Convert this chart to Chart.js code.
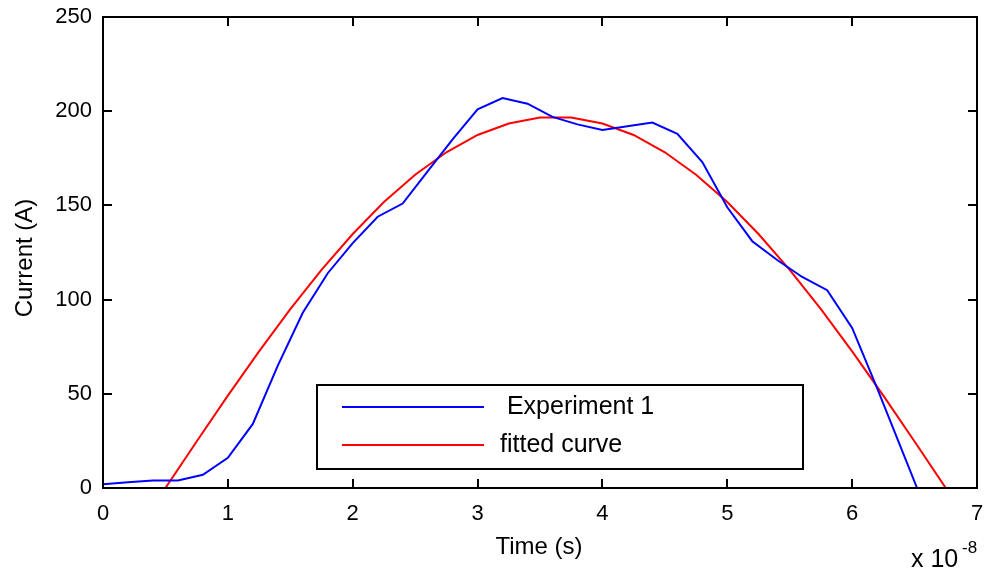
<!DOCTYPE html>
<html>
<head>
<meta charset="utf-8">
<title>Current vs Time</title>
<script src="https://cdn.jsdelivr.net/npm/chart.js@4/dist/chart.umd.min.js"></script>
<style>
  html, body { margin: 0; padding: 0; background: #fff; }
  canvas { display: block; }
</style>
</head>
<body>
<canvas id="plot" width="988" height="575"></canvas>
<script>
// measured points, time in units of 1e-8 s
const expTime = [0, 0.2, 0.4, 0.6, 0.8, 1.0, 1.2, 1.4, 1.6, 1.8, 2.0, 2.2, 2.4, 2.6, 2.8, 3.0, 3.2, 3.4, 3.6, 3.8,
                 4.0, 4.2, 4.4, 4.6, 4.8, 5.0, 5.2, 5.4, 5.6, 5.8, 6.0, 6.2, 6.52];
const expCurrent = [2, 3, 4, 4, 7, 16, 34, 65, 93, 114, 130, 144, 151, 168, 185, 201, 207, 204, 197, 193,
                    190, 192, 194, 188, 173, 149, 131, 121, 112, 105, 85, 53, 0];

// fitted curve, read every 0.25
const fitTime = [0.5, 0.75, 1.0, 1.25, 1.5, 1.75, 2.0, 2.25, 2.5, 2.75, 3.0, 3.25, 3.5,
                 3.75, 4.0, 4.25, 4.5, 4.75, 5.0, 5.25, 5.5, 5.75, 6.0, 6.25, 6.5, 6.75];
const fitCurrent = [0, 24.7, 49, 72.5, 94.9, 115.8, 134.8, 151.8, 166.3, 178.2, 187.4, 193.5, 196.6,
                    196.6, 193.5, 187.4, 178.2, 166.3, 151.8, 134.8, 115.8, 94.9, 72.5, 49, 24.7, 0];

const xTicks = [0, 1, 2, 3, 4, 5, 6, 7];
const yTicks = [0, 50, 100, 150, 200, 250];
const legendLabels = [' Experiment 1', 'fitted curve'];

const FONT = '"Liberation Sans", Arial, sans-serif';

function toPoints(xs, ys) {
  return xs.map((x, i) => ({ x: x, y: ys[i] }));
}

// matlab style box: frame, inward ticks, labels, legend
const matlabBox = {
  id: 'matlabBox',
  afterDraw(chart) {
    const ctx = chart.ctx;
    const a = chart.chartArea;
    const xs = chart.scales.x, ys = chart.scales.y;
    const tl = 9;
    ctx.save();
    ctx.strokeStyle = '#000';
    ctx.lineWidth = 2;
    ctx.strokeRect(a.left, a.top, a.right - a.left, a.bottom - a.top);
    ctx.beginPath();
    xTicks.forEach(v => {
      const px = Math.round(xs.getPixelForValue(v));
      ctx.moveTo(px, a.bottom); ctx.lineTo(px, a.bottom - tl);
      ctx.moveTo(px, a.top); ctx.lineTo(px, a.top + tl);
    });
    yTicks.forEach(v => {
      const py = Math.round(ys.getPixelForValue(v));
      ctx.moveTo(a.left, py); ctx.lineTo(a.left + tl, py);
      ctx.moveTo(a.right, py); ctx.lineTo(a.right - tl, py);
    });
    ctx.stroke();

    // axis titles
    ctx.fillStyle = '#000';
    ctx.font = '24px ' + FONT;
    ctx.textAlign = 'center';
    ctx.textBaseline = 'middle';
    ctx.fillText('Time (s)', (a.left + a.right) / 2 - 1, 547);
    ctx.save();
    ctx.translate(25, 258);
    ctx.rotate(-Math.PI / 2);
    ctx.fillText('Current (A)', 0, 0);
    ctx.restore();

    // exponent
    ctx.textAlign = 'left';
    ctx.textBaseline = 'alphabetic';
    ctx.font = '25px ' + FONT;
    ctx.fillText('x 10', 911, 567);
    ctx.font = '17px ' + FONT;
    ctx.fillText('-8', 962, 553);

    // legend
    const lx = 317, ly = 385, lw = 486, lh = 84;
    ctx.fillStyle = '#fff';
    ctx.fillRect(lx, ly, lw, lh);
    ctx.strokeStyle = '#000';
    ctx.lineWidth = 2;
    ctx.strokeRect(lx, ly, lw, lh);
    const rows = [407, 445];
    chart.data.datasets.forEach((ds, i) => {
      ctx.strokeStyle = ds.borderColor;
      ctx.lineWidth = 2;
      ctx.beginPath();
      ctx.moveTo(342, rows[i]);
      ctx.lineTo(484, rows[i]);
      ctx.stroke();
      ctx.fillStyle = '#000';
      ctx.font = '25px ' + FONT;
      ctx.textBaseline = 'middle';
      ctx.fillText(legendLabels[i], 500, rows[i]);
    });
    ctx.restore();
  }
};

new Chart(document.getElementById('plot'), {
  type: 'line',
  data: {
    datasets: [
      {
        label: legendLabels[0],
        data: toPoints(expTime, expCurrent),
        borderColor: '#0000ff',
        borderWidth: 2,
        pointRadius: 0,
        tension: 0,
        fill: false
      },
      {
        label: legendLabels[1],
        data: toPoints(fitTime, fitCurrent),
        borderColor: '#ff0000',
        borderWidth: 2,
        pointRadius: 0,
        tension: 0,
        fill: false
      }
    ]
  },
  options: {
    responsive: false,
    animation: false,
    devicePixelRatio: 1,
    layout: { padding: { top: 17, right: 11, bottom: 0, left: 0 } },
    plugins: {
      legend: { display: false },
      tooltip: { enabled: false }
    },
    scales: {
      x: {
        type: 'linear',
        min: 0,
        max: 7,
        grid: { display: false, drawTicks: false },
        border: { display: false },
        afterBuildTicks: s => { s.ticks = xTicks.map(v => ({ value: v })); },
        afterFit: s => { s.height = 87; s.paddingLeft = 0; s.paddingRight = 0; },
        ticks: {
          color: '#000',
          padding: 13,
          maxRotation: 0,
          font: { family: FONT, size: 22 }
        }
      },
      y: {
        type: 'linear',
        min: 0,
        max: 250,
        grid: { display: false, drawTicks: false },
        border: { display: false },
        afterBuildTicks: s => { s.ticks = yTicks.map(v => ({ value: v })); },
        afterFit: s => { s.width = 103; s.paddingTop = 0; s.paddingBottom = 0; },
        ticks: {
          color: '#000',
          padding: 11,
          font: { family: FONT, size: 22 }
        }
      }
    }
  },
  plugins: [matlabBox]
});
</script>
</body>
</html>
